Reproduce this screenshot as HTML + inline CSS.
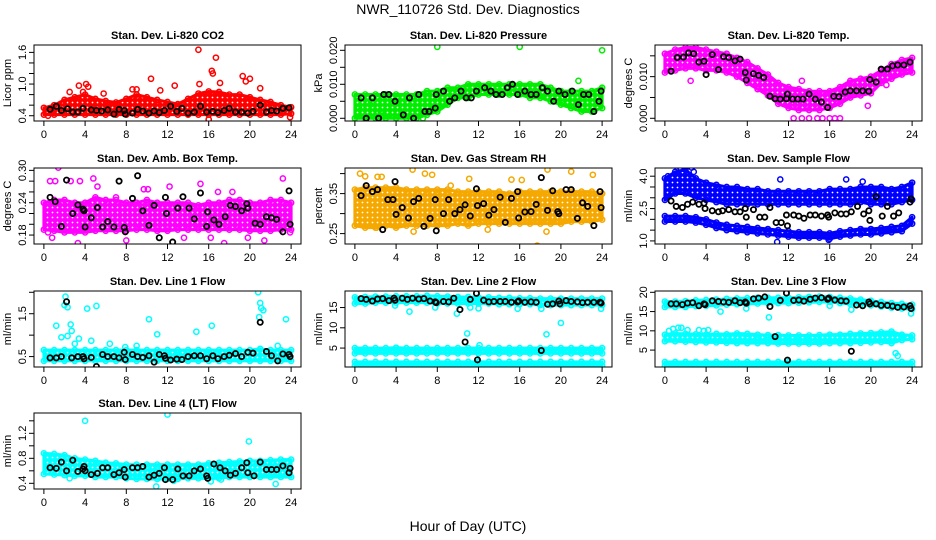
<!DOCTYPE html>
<html><head><meta charset="utf-8"><style>
body{margin:0;background:#fff;}
svg{display:block;font-family:"Liberation Sans",sans-serif;}
</style></head><body>
<svg id="c" width="936" height="540" viewBox="0 0 936 540">
<text x="468" y="14" text-anchor="middle" font-size="14">NWR_110726  Std. Dev. Diagnostics</text>
<text x="468" y="531" text-anchor="middle" font-size="14">Hour of Day (UTC)</text>
</svg>
<script>
const hours=[0,1,2,3,4,5,6,7,8,9,10,11,12,13,14,15,16,17,18,19,20,21,22,23,24];
// CO2
const co2Lo=[0.42,0.42,0.42,0.42,0.42,0.42,0.42,0.42,0.42,0.42,0.42,0.42,0.42,0.42,0.42,0.42,0.42,0.42,0.42,0.42,0.42,0.42,0.42,0.42,0.44];
const co2Hi=[0.55,0.6,0.7,0.75,0.8,0.72,0.68,0.65,0.72,0.8,0.75,0.7,0.66,0.62,0.72,0.82,0.86,0.85,0.8,0.8,0.75,0.7,0.66,0.6,0.56];
const co2OutX=[3.4,4.1,4.3,3.8,5.8,10.4,12.7,15,16.3,16.7,16.4,17.1,19.3,19.6,20,15.1,9,11.3,16,23.9,0.4,21,2.5,8.6];
const co2OutY=[0.97,1.0,0.95,0.85,0.82,1.1,0.97,1.65,1.25,1.5,1.2,1.02,1.15,1.05,1.1,1.0,0.9,0.88,0.33,0.37,0.4,0.92,0.85,0.9];
const co2BlkX=[0.6,1.2,1.7,2.3,2.8,3.3,3.8,4.6,5.1,5.6,6.2,6.8,7.3,7.8,7.9,8.6,9.1,9.6,10.2,10.7,11.2,11.7,12.3,12.9,13.4,14,14.6,15.2,15.8,16.4,16.9,17.5,18,18.6,19.2,19.8,20.3,21,21.6,22.1,22.6,23.2,23.8];
const co2BlkY=[0.52,0.58,0.5,0.53,0.47,0.47,0.54,0.51,0.5,0.49,0.51,0.43,0.52,0.5,0.43,0.45,0.52,0.49,0.45,0.49,0.46,0.5,0.58,0.48,0.54,0.45,0.47,0.58,0.47,0.48,0.46,0.5,0.54,0.47,0.47,0.45,0.48,0.6,0.47,0.5,0.49,0.54,0.55];
// Pressure
const prLo=[0,0,0,0,0,0,0,0.001,0.002,0.004,0.006,0.006,0.007,0.007,0.007,0.007,0.007,0.006,0.006,0.005,0.004,0.003,0.002,0.002,0.003];
const prHi=[0.007,0.007,0.007,0.007,0.007,0.007,0.007,0.008,0.008,0.009,0.009,0.01,0.01,0.01,0.01,0.01,0.01,0.01,0.01,0.009,0.008,0.008,0.008,0.008,0.009];
const prOutX=[8,16,24,21.7,0.4,1.5,2.5,6.6];
const prOutY=[0.021,0.021,0.020,0.011,0.003,0.004,0.002,0];
const prBlkX=[0.6,1.1,1.7,2.3,2.8,3.3,3.9,4.7,5.3,5.7,6.2,6.8,7.2,7.9,7.8,8.6,9.2,9.7,10.3,10.8,11.3,11.8,12.6,13.2,13.7,14.3,14.8,15.3,15.8,16.5,17.1,17.6,18.2,18.7,19.3,19.8,20.4,21.1,21.7,22.2,22.7,23.2,23.7,23.9];
const prBlkY=[0.006,0,0.006,0,0.007,0.007,0.005,0.001,0.006,0,0.007,0.002,0.002,0.007,0.003,0.008,0.005,0.006,0.008,0.006,0.006,0.008,0.009,0.008,0.007,0.007,0.009,0.01,0.007,0.008,0.007,0.007,0.009,0.008,0.005,0.008,0.007,0.008,0.004,0.007,0.007,0.002,0.005,0.008];
// Temp
const tpLo=[0.011,0.0115,0.012,0.012,0.0115,0.0115,0.011,0.01,0.0085,0.007,0.0055,0.0035,0.0025,0.002,0.002,0.002,0.0025,0.0035,0.005,0.0055,0.006,0.0085,0.0095,0.0105,0.011];
const tpHi=[0.0155,0.0165,0.017,0.017,0.0165,0.016,0.0155,0.0145,0.0135,0.012,0.0105,0.0085,0.0075,0.007,0.0065,0.0065,0.0065,0.0075,0.009,0.0095,0.01,0.0115,0.013,0.014,0.0145];
const tpOutX=[12.5,13.3,14,14.8,15.3,16,16.5,17,19.7,2.5,13.3,21.5];
const tpOutY=[0,0,0,0,0,0,0,0,0.003,0.009,0.009,0.008];
const tpBlkX=[0.6,1.2,1.8,2.3,2.8,3.3,3.8,4.0,4.6,5.2,5.7,6.2,6.8,7.3,7.8,7.9,8.6,9.1,9.6,10.2,10.7,11.2,11.8,11.9,12.4,12.9,13.4,14,14.6,15.2,15.8,16.4,16.9,17.5,18,18.6,19.2,19.8,19.9,20.5,21,21.6,22.1,22.6,23.2,23.8];
const tpBlkY=[0.0113,0.0146,0.0147,0.0157,0.0155,0.0135,0.0137,0.0105,0.0153,0.0117,0.0148,0.0146,0.0138,0.0142,0.011,0.0092,0.0107,0.0103,0.0098,0.0053,0.0047,0.0046,0.0047,0.0058,0.0046,0.0046,0.0046,0.0058,0.0046,0.0039,0.0026,0.0053,0.0052,0.0063,0.0066,0.0066,0.0066,0.0065,0.0093,0.0087,0.0118,0.0118,0.0126,0.0128,0.0128,0.0135];
// Amb box
const abLo=[0.19,0.188,0.185,0.185,0.185,0.188,0.188,0.188,0.188,0.19,0.19,0.188,0.188,0.19,0.19,0.19,0.19,0.19,0.19,0.19,0.188,0.188,0.188,0.19,0.19];
const abHi=[0.24,0.245,0.245,0.24,0.24,0.25,0.245,0.245,0.24,0.24,0.245,0.24,0.24,0.24,0.24,0.235,0.24,0.24,0.245,0.245,0.24,0.24,0.245,0.245,0.24];
const abOutX=[1.4,0.6,1.1,2.6,3.5,4.8,5.2,3.3,0.4,0.8,7,12.2,15.2,16.2,16.9,17.5,18.3,19.8,21.4,23.2,23.9,10.1,8,13.6,9.7];
const abOutY=[0.305,0.28,0.28,0.28,0.28,0.285,0.27,0.165,0.185,0.175,0.25,0.27,0.275,0.175,0.26,0.165,0.26,0.175,0.17,0.285,0.185,0.265,0.17,0.175,0.265];
const abBlkX=[0.6,1.1,1.7,2.2,2.8,3.3,3.8,3.9,4.0,4.6,5.2,5.7,6.2,6.8,7.3,7.8,7.9,8.6,9.1,9.6,10.2,10.7,11.2,11.8,11.9,12.5,13,13.5,14.1,14.6,15.2,15.8,15.9,16.5,17,17.6,18.1,18.6,19.2,19.7,19.8,20.5,21,21.6,22.1,22.6,23.2,23.8,23.9];
const abBlkY=[0.25,0.242,0.196,0.282,0.22,0.236,0.228,0.225,0.195,0.212,0.231,0.195,0.205,0.195,0.28,0.194,0.186,0.248,0.29,0.225,0.198,0.235,0.175,0.25,0.22,0.167,0.23,0.251,0.23,0.21,0.258,0.196,0.223,0.208,0.2,0.214,0.235,0.233,0.225,0.238,0.23,0.202,0.2,0.214,0.212,0.209,0.186,0.262,0.2];
// RH
const rhLo=[0.27,0.265,0.265,0.27,0.265,0.27,0.27,0.27,0.27,0.27,0.275,0.27,0.275,0.275,0.275,0.275,0.275,0.275,0.275,0.275,0.275,0.28,0.28,0.28,0.285];
const rhHi=[0.36,0.365,0.365,0.365,0.365,0.36,0.36,0.36,0.36,0.36,0.355,0.355,0.355,0.355,0.355,0.35,0.355,0.355,0.355,0.355,0.355,0.355,0.355,0.355,0.35];
const rhOutX=[0.5,1,2.2,2.6,5.6,6.8,7.5,11.1,12.9,15.2,16.2,17.7,18.7,21,23.1,18.6,2.1,5.7,9.3];
const rhOutY=[0.4,0.393,0.392,0.392,0.41,0.4,0.397,0.387,0.26,0.385,0.384,0.22,0.41,0.405,0.397,0.255,0.265,0.255,0.37];
const rhBlkX=[0.6,1.1,1.7,2.2,2.7,3.2,3.7,3.9,4.0,4.6,5.2,5.7,6.2,6.7,7.3,7.8,7.9,8.6,9.1,9.7,10.2,10.7,11.2,11.8,11.9,12.5,13,13.5,14.1,14.6,15.2,15.8,15.9,16.5,17.1,17.6,18.1,18.7,19.2,19.7,19.8,20.5,21,21.6,22.1,22.6,23.2,23.8,23.9];
const rhBlkY=[0.345,0.37,0.355,0.36,0.26,0.335,0.335,0.38,0.298,0.315,0.289,0.33,0.338,0.268,0.288,0.335,0.257,0.3,0.335,0.3,0.31,0.322,0.294,0.362,0.32,0.325,0.296,0.31,0.341,0.278,0.338,0.355,0.289,0.304,0.305,0.323,0.39,0.308,0.357,0.305,0.3,0.36,0.36,0.288,0.327,0.318,0.27,0.355,0.315];
// Sample flow
const sfLo1=[2.9,3.2,3.2,3.0,2.9,2.8,2.7,2.7,2.7,2.7,2.7,2.7,2.7,2.7,2.7,2.7,2.7,2.7,2.7,2.8,2.7,2.7,2.7,2.8,2.9];
const sfHi1=[3.9,4.2,4.3,3.9,3.7,3.6,3.5,3.5,3.4,3.4,3.3,3.3,3.3,3.3,3.3,3.3,3.4,3.4,3.4,3.5,3.5,3.5,3.4,3.5,3.7];
const sfLo2=[1.9,1.9,1.9,1.85,1.75,1.6,1.5,1.45,1.4,1.35,1.3,1.25,1.2,1.15,1.15,1.15,1.1,1.2,1.25,1.3,1.3,1.35,1.4,1.45,1.8];
const sfHi2=[2.15,2.15,2.15,2.1,2.0,1.85,1.75,1.7,1.65,1.6,1.55,1.5,1.45,1.4,1.4,1.4,1.35,1.45,1.5,1.55,1.55,1.6,1.65,1.7,2.1];
const sfOutX=[1.5,1.9,2.6,2.8,10.9,11.2,15.9,17.6,19.2,0.3];
const sfOutY=[4.4,4.4,4.4,4.2,0.95,3.85,1.05,3.85,3.75,4.0];
const sfBlkX=[0.6,1.1,1.7,2.2,2.7,3.3,3.8,3.9,4.6,5.2,5.6,6.2,6.8,7.3,7.8,7.9,8.6,9.2,9.7,10.2,10.8,11.3,11.8,11.9,12.5,13,13.5,14.1,14.6,15.2,15.8,15.9,16.5,17.1,17.6,18.1,18.7,19.3,19.8,19.9,20.5,21.1,21.6,22.2,22.7,23.8,23.9];
const sfBlkY=[2.85,2.6,2.55,2.7,2.8,2.7,2.75,2.5,2.4,2.35,2.4,2.45,2.35,2.35,2.5,2.1,2.45,2.1,2.1,2.55,1.85,1.85,2.2,1.7,2.2,2.15,2.05,2.2,2.2,2.15,2.2,2.1,2.3,2.25,2.25,2.35,2.6,2.25,2.4,1.95,3.05,2.15,2.6,2.15,2.3,2.8,2.95];
// Line 1
const l1Lo=[0.4,0.4,0.4,0.4,0.4,0.4,0.4,0.4,0.4,0.4,0.4,0.4,0.4,0.4,0.4,0.4,0.4,0.4,0.4,0.4,0.4,0.4,0.4,0.4,0.4];
const l1Hi=[0.65,0.65,0.65,0.65,0.65,0.65,0.65,0.65,0.65,0.65,0.65,0.65,0.65,0.65,0.65,0.65,0.65,0.65,0.65,0.65,0.65,0.68,0.65,0.65,0.65];
const l1OutX=[1.2,1.7,2.1,2.0,2.3,2.6,2.7,3.0,3.4,4.2,4.6,5.1,6.4,7.9,9,10.2,11,14.8,16.3,20.8,20.9,21,21.1,21.3,23.5,2.3,22.7];
const l1OutY=[1.22,0.95,1.9,1.7,1.65,1.25,1.1,0.8,0.92,1.62,0.87,1.68,0.8,0.72,0.75,1.37,1.02,1.08,1.22,2.0,1.42,1.75,1.63,1.58,1.37,0.98,0.75];
const l1BlkX=[0.6,1.2,1.7,2.2,2.7,3.3,3.8,3.9,4.6,5.1,5.7,6.2,6.8,7.3,7.8,7.9,8.6,9.1,9.6,10.2,10.7,11.2,11.7,11.8,12.3,12.9,13.4,14,14.6,15.2,15.8,16.4,16.9,17.5,18,18.6,19.2,19.8,20.3,21,21.6,22.1,22.7,23.2,23.8,23.9];
const l1BlkY=[0.47,0.47,0.5,1.78,0.47,0.5,0.5,0.45,0.48,0.27,0.55,0.5,0.5,0.47,0.6,0.43,0.55,0.5,0.48,0.52,0.37,0.55,0.52,0.46,0.42,0.44,0.43,0.5,0.52,0.52,0.45,0.52,0.45,0.5,0.53,0.57,0.5,0.6,0.58,1.3,0.62,0.52,0.4,0.56,0.55,0.5];
// Line 2
const l2Lo1=[16,16,16.2,16.2,16.2,16.2,16.2,16.2,16,16,16,16,16,16,15.8,15.8,15.8,15.8,15.6,15.6,15.6,15.6,15.6,15.6,15.6];
const l2Hi1=[17.5,17.6,17.7,17.7,17.8,17.8,17.8,17.9,17.8,17.7,17.6,17.6,17.5,17.5,17.4,17.4,17.3,17.3,17.2,17.2,17.2,17.2,17.2,17.2,17.2];
const l2Lo2=[3.7,3.7,3.7,3.7,3.7,3.7,3.7,3.7,3.7,3.7,3.7,3.7,3.7,3.7,3.7,3.7,3.7,3.7,3.7,3.7,3.7,3.7,3.7,3.7,3.7];
const l2Hi2=[5,5,5,5,5.1,5,5,5,5,5,5,5,5,5,5,5,5,5,5,5,5,5,5,5,5];
const l2Lo3=[0.6,0.6,0.6,0.6,0.6,0.6,0.6,0.6,0.6,0.6,0.6,0.6,0.6,0.6,0.6,0.6,0.6,0.6,0.6,0.6,0.6,0.6,0.6,0.6,0.6];
const l2Hi3=[1.6,1.6,1.6,1.6,1.6,1.6,1.6,1.6,1.6,1.6,1.6,1.6,1.6,1.6,1.6,1.6,1.6,1.6,1.6,1.6,1.6,1.6,1.6,1.6,1.6];
const l2OutX=[3.9,5.3,7.8,9.9,10.9,11.2,12,15.8,18.6,18.1,20,23.9,12.1];
const l2OutY=[15.5,14,15,13.5,8.6,15,14.8,14.7,8.4,14.7,11.2,14.7,5.7];
const l2BlkX=[0.6,1.1,1.7,2.2,2.7,3.3,3.8,3.9,4.6,5.1,5.6,6.2,6.7,7.3,7.8,7.9,8.6,9.1,9.6,10.2,10.7,11.2,11.8,11.9,12.5,13,13.5,14.1,14.6,15.2,15.8,15.9,16.5,17.1,17.6,18.1,18.7,19.2,19.8,19.9,20.5,21,21.6,22.1,22.6,23.2,23.8,23.9];
const l2BlkY=[17.2,17,16.6,17.1,17.2,16.7,17.3,16.8,17.3,17,17.3,17.1,17.2,16.6,16.4,16.2,16.5,16.4,17.3,14.5,6.5,17,18.5,2.1,16.8,16.4,16.5,16.5,16.5,16.3,16.4,16.6,16.3,16.4,16.3,4.4,15.8,15.9,16.6,15.9,16.7,16.5,16.4,16.2,16.3,16.3,16.3,16.1];
// Line 3
const l3Lo1=[16.2,16.2,16.2,16.4,16.5,16.6,16.8,16.9,17,17.1,17.2,17.2,17.2,17.3,17.4,17.5,17.5,17.2,17,16.8,16.6,16.3,16,15.8,15.6];
const l3Hi1=[17.6,17.6,17.7,17.9,18,18.1,18.3,18.4,18.5,18.6,18.6,18.6,18.6,18.7,18.8,18.9,18.8,18.6,18.4,18.1,17.8,17.5,17.2,17,16.8];
const l3Lo2=[7.3,7.3,7.2,7.1,7,7,6.9,6.8,6.8,6.8,6.8,6.7,6.7,6.7,6.7,6.7,6.8,6.8,6.8,6.9,7,7.1,6.8,7.6,7.8];
const l3Hi2=[9,9.3,9.2,9.1,9,9.2,9.1,9.3,9.2,9,8.9,8.9,8.8,8.8,8.8,8.9,9,9,9.2,9.3,9.4,9.6,9.8,9,8.8];
const l3Lo3=[0.9,0.9,0.9,0.9,0.9,0.9,0.9,0.9,0.9,0.9,0.9,0.9,0.9,0.9,0.9,0.9,0.9,0.9,0.9,0.9,0.9,0.9,0.9,0.9,0.9];
const l3Hi3=[1.9,1.9,1.9,1.9,1.9,1.9,1.9,1.9,1.9,1.9,1.9,1.9,1.9,1.9,1.9,1.9,1.9,1.9,1.9,1.9,1.9,1.9,1.9,1.9,1.9];
const l3OutX=[0.4,0.8,1.3,2.2,3.3,3.8,4.2,5.4,7.9,10.1,16,18.1,22.4,22.6,23.9,1.6];
const l3OutY=[10,10.5,10.8,10.2,10.2,10,10.2,15,15.8,13.5,16.5,15.5,4.2,3.5,14.5,10.8];
const l3BlkX=[0.6,1.1,1.7,2.2,2.7,3.3,3.8,3.9,4.6,5.2,5.7,6.2,6.8,7.3,7.8,7.9,8.6,9.1,9.7,10.2,10.7,11.2,11.8,11.9,12.5,13,13.5,14.1,14.6,15.2,15.8,15.9,16.5,17.1,17.6,18.1,18.6,19.2,19.8,19.9,20.5,21,21.6,22.1,22.6,23.2,23.8,23.9];
const l3BlkY=[17,17,16.8,17.2,17.3,16.5,17,16.8,17.8,17.6,17.5,17.4,17.8,17.3,17.5,17.2,18.3,18.5,18.8,16.3,8.5,17.9,19.8,2.4,17.9,18,17.7,18.2,18.5,18.6,18.2,18.5,18,17.8,17.7,4.7,16.7,16.5,17.5,17,17,16.6,16.6,16.4,16.1,16.2,16.5,15.8];
// Line 4
const l4Lo=[0.55,0.54,0.53,0.52,0.52,0.5,0.5,0.5,0.48,0.47,0.47,0.47,0.47,0.47,0.48,0.48,0.48,0.48,0.5,0.5,0.5,0.5,0.5,0.5,0.5];
const l4Hi=[0.88,0.87,0.85,0.8,0.78,0.76,0.73,0.72,0.7,0.7,0.7,0.7,0.7,0.7,0.7,0.7,0.72,0.73,0.74,0.75,0.76,0.76,0.77,0.78,0.78];
const l4OutX=[4,12,19.9,10.9,2.5,22.5,16.2,12.6,17.2];
const l4OutY=[1.4,1.5,1.07,0.35,0.48,0.39,0.43,0.44,0.46];
const l4BlkX=[0.6,1.2,1.7,2.2,2.8,3.3,3.8,3.9,4.0,4.6,5.2,5.7,6.2,6.8,7.3,7.8,7.9,8.6,9.1,9.6,10.2,10.7,11.2,11.7,11.8,12.5,13,13.5,14.1,14.6,15.2,15.8,15.9,16.5,17.1,17.6,18.1,18.6,19.2,19.7,19.8,20.4,21,21.6,22.1,22.6,23.2,23.8,23.9];
const l4BlkY=[0.65,0.64,0.74,0.6,0.77,0.59,0.63,0.67,0.6,0.54,0.56,0.65,0.65,0.54,0.57,0.62,0.5,0.65,0.65,0.67,0.5,0.53,0.56,0.65,0.46,0.46,0.63,0.52,0.52,0.6,0.63,0.52,0.48,0.71,0.65,0.6,0.53,0.56,0.65,0.73,0.57,0.52,0.74,0.62,0.62,0.62,0.68,0.57,0.64];

const xTicks=[0,4,8,12,16,20,24];
const cols=[34,345,655], W=267, rows=[45,168,291,413], Hb=76;
const panels=[
 {name:'co2',title:'Stan. Dev. Li-820 CO2',yl:'Licor ppm',c:0,r:0,d:[0.30,1.74],ticks:[0.4,0.6,0.8,1.0,1.2,1.4,1.6],labs:['0.4','1.0','1.6'],col:'#ff0000',bands:[[co2Lo,co2Hi]],ox:co2OutX,oy:co2OutY,bx:co2BlkX,by:co2BlkY},
 {name:'pressure',title:'Stan. Dev. Li-820 Pressure',yl:'kPa',c:1,r:0,d:[-0.0008,0.02156],ticks:[0,0.005,0.01,0.015,0.02],labs:['0.000','0.010','0.020'],col:'#00ee00',bands:[[prLo,prHi]],ox:prOutX,oy:prOutY,bx:prBlkX,by:prBlkY},
 {name:'temp',title:'Stan. Dev. Li-820 Temp.',yl:'degrees C',c:2,r:0,d:[-0.00065,0.0176],ticks:[0,0.005,0.01,0.015],labs:['0.000','0.010'],col:'#ff00ff',bands:[[tpLo,tpHi]],ox:tpOutX,oy:tpOutY,bx:tpBlkX,by:tpBlkY},
 {name:'amb-box',title:'Stan. Dev. Amb. Box Temp.',yl:'degrees C',c:0,r:1,d:[0.1634,0.3044],ticks:[0.18,0.2,0.22,0.24,0.26,0.28,0.3],labs:['0.18','0.24','0.30'],col:'#ff00ff',bands:[[abLo,abHi]],ox:abOutX,oy:abOutY,bx:abBlkX,by:abBlkY},
 {name:'rh',title:'Stan. Dev. Gas Stream RH',yl:'percent',c:1,r:1,d:[0.224,0.414],ticks:[0.25,0.3,0.35,0.4],labs:['0.25','0.35'],col:'#f5a800',bands:[[rhLo,rhHi]],ox:rhOutX,oy:rhOutY,bx:rhBlkX,by:rhBlkY},
 {name:'sample-flow',title:'Stan. Dev. Sample Flow',yl:'ml/min',c:2,r:1,d:[0.857,4.38],ticks:[1,1.5,2,2.5,3,3.5,4],labs:['1.0','2.5','4.0'],col:'#0000ff',bands:[[sfLo1,sfHi1],[sfLo2,sfHi2]],ox:sfOutX,oy:sfOutY,bx:sfBlkX,by:sfBlkY},
 {name:'line1',title:'Stan. Dev. Line 1 Flow',yl:'ml/min',c:0,r:2,d:[0.257,2.03],ticks:[0.5,1,1.5,2],labs:['0.5','1.5'],col:'#00ffff',bands:[[l1Lo,l1Hi]],ox:l1OutX,oy:l1OutY,bx:l1BlkX,by:l1BlkY},
 {name:'line2',title:'Stan. Dev. Line 2 Flow',yl:'ml/min',c:1,r:2,d:[0.33,19.08],ticks:[5,10,15],labs:['5','10','15'],col:'#00ffff',bands:[[l2Lo1,l2Hi1],[l2Lo2,l2Hi2],[l2Lo3,l2Hi3]],ox:l2OutX,oy:l2OutY,bx:l2BlkX,by:l2BlkY},
 {name:'line3',title:'Stan. Dev. Line 3 Flow',yl:'ml/min',c:2,r:2,d:[0.61,20.34],ticks:[5,10,15,20],labs:['5','10','15','20'],col:'#00ffff',bands:[[l3Lo1,l3Hi1],[l3Lo2,l3Hi2],[l3Lo3,l3Hi3]],ox:l3OutX,oy:l3OutY,bx:l3BlkX,by:l3BlkY},
 {name:'line4',title:'Stan. Dev. Line 4 (LT) Flow',yl:'ml/min',c:0,r:3,d:[0.309,1.525],ticks:[0.4,0.6,0.8,1.0,1.2,1.4],labs:['0.4','0.8','1.2'],col:'#00ffff',bands:[[l4Lo,l4Hi]],ox:l4OutX,oy:l4OutY,bx:l4BlkX,by:l4BlkY}
];
const NS='http://www.w3.org/2000/svg', svg=document.getElementById('c');
function mk(t,a,p){const e=document.createElementNS(NS,t);for(const k in a)e.setAttribute(k,a[k]);(p||svg).appendChild(e);return e;}
const defs=mk('defs',{});
panels.forEach(P=>{
 const L=cols[P.c],T=rows[P.r],R=L+W,B=T+Hb;
 const sx=x=>L+(x+0.96)/25.92*W;
 const sy=v=>B-(v-P.d[0])/(P.d[1]-P.d[0])*Hb;
 const pat=mk('pattern',{id:'pt'+P.name,width:5,height:5,patternUnits:'userSpaceOnUse'},defs);
 mk('rect',{x:0,y:0,width:5,height:5,fill:P.col},pat);
 mk('circle',{cx:2.5,cy:2.5,r:0.9,fill:'#fff'},pat);
 const g=mk('g',{});
 
 
 const cp=mk('clipPath',{id:'cp'+P.name},g);mk('rect',{x:L,y:T,width:W,height:Hb},cp);
 const pg=mk('g',{'clip-path':'url(#cp'+P.name+')'},g);
 
 
 P.bands.forEach(b=>{
  let pts=hours.map((h,i)=>sx(h)+','+sy(b[1][i]));
  pts=pts.concat(hours.slice().reverse().map((h,j)=>sx(h)+','+sy(b[0][hours.length-1-j])));
  const pl=mk('polygon',{points:pts.join(' '),fill:'url(#pt'+P.name+')',stroke:P.col,'stroke-width':3,'stroke-linejoin':'round'},pg);
  
  
  hours.forEach((h,i)=>{[b[0][i],b[1][i]].forEach(v=>{
   const c=mk('circle',{cx:sx(h),cy:sy(v),r:2.6,fill:'none',stroke:P.col,'stroke-width':1.5},pg);
   
   });});
 });
 P.ox.forEach((x,i)=>{const c=mk('circle',{cx:sx(x),cy:sy(P.oy[i]),r:2.6,fill:'none',stroke:P.col,'stroke-width':1.5},pg);
  
  });
 P.bx.forEach((x,i)=>{const c=mk('circle',{cx:sx(x),cy:sy(P.by[i]),r:2.6,fill:'none',stroke:'#000','stroke-width':1.8},pg);
  
  });
 const bx=mk('rect',{x:L,y:T,width:W,height:Hb,fill:'none',stroke:'#000','stroke-width':1},g);
 
 
 const tt=mk('text',{x:(L+R)/2,y:T-6,'text-anchor':'middle','font-size':11,'font-weight':'bold'},g);tt.textContent=P.title;
 
 
 xTicks.forEach(t=>{mk('line',{x1:sx(t),x2:sx(t),y1:B,y2:B+5,stroke:'#000'},g);
  const tx=mk('text',{x:sx(t),y:B+17,'text-anchor':'middle','font-size':11},g);tx.textContent=t;
  
  });
 P.ticks.forEach(t=>{mk('line',{x1:L-5,x2:L,y1:sy(t),y2:sy(t),stroke:'#000'},g);});
 P.labs.forEach(s=>{const y=sy(parseFloat(s));
  const tx=mk('text',{x:L-8,y:y,'text-anchor':'middle','font-size':11,transform:'rotate(-90 '+(L-8)+' '+y+')'},g);tx.textContent=s;
  
  });
 const yl=mk('text',{x:L-23,y:T+Hb/2,'text-anchor':'middle','font-size':11,transform:'rotate(-90 '+(L-23)+' '+(T+Hb/2)+')'},g);yl.textContent=P.yl;
 
 
});
</script>
</body></html>
